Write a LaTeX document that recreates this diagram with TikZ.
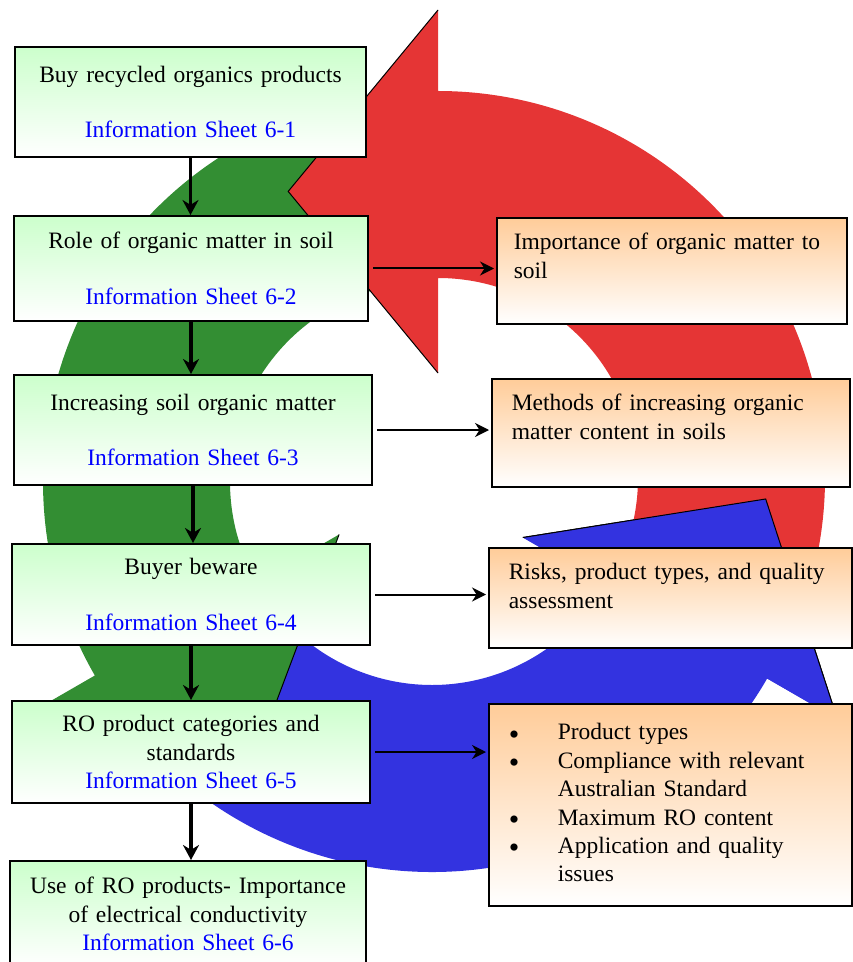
\documentclass[tikz,border=0pt]{standalone}
\usepackage{fontspec}
\setmainfont{Liberation Serif}
\usetikzlibrary{arrows.meta}

\definecolor{cycred}{RGB}{229,53,53}
\definecolor{cycgreen}{RGB}{51,142,51}
\definecolor{cycblue}{RGB}{51,51,224}
\definecolor{sheetgreen}{RGB}{204,255,204}
\definecolor{noteorange}{RGB}{255,204,153}

\tikzset{
  sheet/.style={draw, line width=1pt, top color=sheetgreen, bottom color=white,
    align=center, text width=165pt, inner xsep=3pt},
  note/.style={draw, line width=0.8pt, top color=noteorange, bottom color=white,
    align=left, anchor=north west, inner xsep=10pt, inner ysep=6pt, text height=10pt},
  down/.style={-{Stealth[length=7.5pt,width=8pt]}, line width=1.6pt},
  across/.style={-{Stealth[length=7pt,width=7pt]}, line width=1pt, shorten <=2pt, shorten >=1pt},
  headedge/.style={draw=black, line width=0.5pt}
}

% centre, tail angle, head angle, colour, tip radius
\newcommand\cyclearrow[5]{%
  \begin{scope}[shift={#1}, yscale=-1]
    \fill[#4] (#2:200) -- (#2:387) arc[start angle=#2, end angle=#3, radius=387]
      -- (#3:468) -- ({#3+27.6}:#5) -- (#3:105) -- (#3:200)
      arc[start angle=#3, end angle=#2, radius=200] -- cycle;
    \draw[headedge] (#3:468) -- ({#3+27.6}:#5) -- (#3:105);
  \end{scope}}
\newcommand\cyclehead[4]{%
  \begin{scope}[shift={#1}, yscale=-1]
    \fill[#3] (#2:468) -- ({#2+27.6}:#4) -- (#2:105) -- cycle;
    \draw[headedge] (#2:468) -- ({#2+27.6}:#4) -- (#2:105);
  \end{scope}}
\newcommand\dotitem{\raisebox{-2.2pt}{\fontsize{15}{14.2}\selectfont\textbullet}}

\begin{document}
\begin{tikzpicture}[x=0.5pt, y=-0.5pt, font=\fontsize{11.75}{14.2}\selectfont]
\useasboundingbox (0,0) rectangle (852,962);

\cyclearrow{(432,485)}{220}{330}{cycblue}{334}
\cyclearrow{(430,482)}{100}{210}{cycgreen}{325}
\cyclearrow{(438,478)}{-20}{90}{cycred}{323.4}
\cyclehead{(432,485)}{330}{cycblue}{334}

\node[sheet, minimum width=175.5pt, minimum height=55pt] (s1) at (190.5,102)
  {Buy recycled organics products\\[13.5pt]\textcolor{blue}{Information Sheet 6-1}};
\node[sheet, minimum width=177pt, minimum height=52.5pt] (s2) at (191,268.5)
  {Role of organic matter in soil\\[13.5pt]\textcolor{blue}{Information Sheet 6-2}};
\node[sheet, minimum width=179pt, minimum height=55pt] (s3) at (193,430)
  {Increasing soil organic matter\\[13.5pt]\textcolor{blue}{Information Sheet 6-3}};
\node[sheet, minimum width=179pt, minimum height=50.5pt] (s4) at (191,594.5)
  {Buyer beware\\[13.5pt]\textcolor{blue}{Information Sheet 6-4}};
\node[sheet, minimum width=179pt, minimum height=51pt] (s5) at (191,752)
  {RO product categories and\\standards\\\textcolor{blue}{Information Sheet 6-5}};
\node[sheet, minimum width=178pt, minimum height=53pt] (s6) at (188,914)
  {Use of RO products- Importance\\of electrical conductivity\\\textcolor{blue}{Information Sheet 6-6}};

\node[note, text width=158pt, inner xsep=8.5pt, text depth=31pt] (n2) at (496,217)
  {Importance of organic matter to\\soil};
\node[note, text width=159pt, text depth=32pt] (n3) at (491,378)
  {Methods of increasing organic\\matter content in soils};
\node[note, text width=161.5pt, text depth=28pt] (n4) at (488,547)
  {Risks, product types, and quality\\assessment};
\node[note, text width=161.5pt, text height=12pt, text depth=77pt] (n5) at (488,703)
  {\begin{tabular}[t]{@{}p{24.5pt}@{}l@{}}
   \dotitem & Product types\\
   \dotitem & Compliance with relevant\\
            & Australian Standard\\
   \dotitem & Maximum RO content\\
   \dotitem & Application and quality\\
            & issues
   \end{tabular}};

\foreach \a/\b in {s1/s2, s2/s3, s3/s4, s4/s5, s5/s6}
  \draw[down] (\a.south) -- (\a.south |- \b.north);
\foreach \a/\b in {s2/n2, s3/n3, s4/n4, s5/n5}
  \draw[across] (\a.east) -- (\a.east -| \b.west);
\end{tikzpicture}
\end{document}
